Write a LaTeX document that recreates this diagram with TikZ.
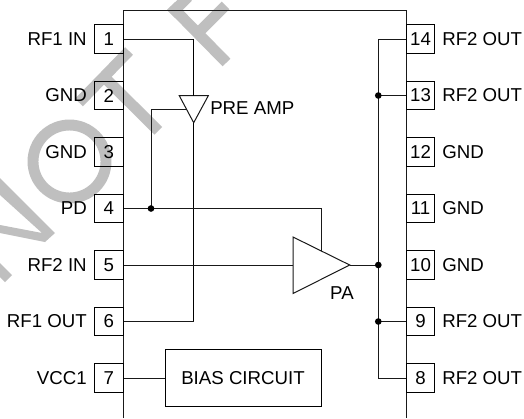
\documentclass[tikz,border=0pt]{standalone}
\usepackage{fontspec}
\setmainfont{Liberation Sans}
\begin{document}
\begin{tikzpicture}[x=0.75pt,y=-0.75pt,
  wm/.style={line width=8.2pt,draw=wmgray,line cap=butt},
  wmf/.style={fill=wmgray,draw=none},
  pin/.style={draw=black,line width=0.75pt,minimum width=21.4pt,minimum height=21.2pt,inner sep=0pt,font=\fontsize{14pt}{16pt}\selectfont},
  lab/.style={inner sep=0pt,font=\fontsize{14pt}{16pt}\selectfont},
  wire/.style={draw=black!90,line width=0.75pt},
  thick wire/.style={draw=black,line width=1.15pt},
  dotn/.style={circle,fill=black,inner sep=0pt,minimum size=5pt}]
\definecolor{wmgray}{gray}{0.75}
\useasboundingbox (0,0) rectangle (524,418);
\fill[white] (0,0) rectangle (524,418);
% watermark
\fill[wmf] (0,178) -- (55,233) -- (45,242) -- (0,233) -- (0,225) -- (42,233) -- (0,195) -- cycle;
\fill[wmf] (0,263) -- (12,275) -- (5,282) -- (0,277) -- cycle;
\draw[wm] (69.5,161.5) circle[radius=36.5];
\draw[wm] (129,51) -- (79,102.5);
\draw[wm] (104,77) -- (158.3,130.8);
\draw[wm] (171,6) -- (226.5,62.5);
\draw[wm] (198,33) -- (225.5,5.5);
\draw[wm] (171,14) -- (188,-3);
% chip
\coordinate (tl) at (123,10.7);\coordinate (tr) at (406.3,10.7);
\coordinate (bl) at (123,418);\coordinate (br) at (406.3,418);
\draw[wire] (bl)--(tl)--(tr)--(br);
% pins
\foreach \n/\y/\t in {1/39/RF1 IN,2/95.5/GND,3/152/GND,4/208.5/PD,5/265/RF2 IN,6/321.5/RF1 OUT,7/378/VCC1}{
  \node[pin] (p\n) at (108.75,\y) {\n};
  \node[lab,anchor=east] (l\n) at (87,\y) {\t};
}
\foreach \n/\y/\t in {14/39/RF2 OUT,13/95.5/RF2 OUT,12/152/GND,11/208.5/GND,10/265/GND,9/321.5/RF2 OUT,8/378/RF2 OUT}{
  \node[pin] (p\n) at (420.6,\y) {\n};
  \node[lab,anchor=west] (l\n) at (442,\y) {\t};
}
% amps
\coordinate (pt1) at (179.3,95.7);\coordinate (pt2) at (208.3,95.7);\coordinate (pt3) at (193.7,122.7);
\draw[wire] (pt1)--(pt2)--(pt3)--cycle;
\node[lab,anchor=west] (pre) at (210,108) {PRE AMP};
\coordinate (a1) at (293,237);\coordinate (a2) at (293,293.5);\coordinate (a3) at (349.7,265);
\draw[wire] (a1)--(a3)--(a2)--cycle;
\node[lab] (pa) at (342,293) {PA};
\node[draw=black,line width=0.75pt,minimum width=117pt,minimum height=42.4pt,inner sep=0pt,font=\fontsize{14pt}{16pt}\selectfont] (bias) at (243,378) {BIAS CIRCUIT};
% wires
\coordinate (j4) at (151,208.5);
\coordinate (j5) at (378.3,265);
\coordinate (j13) at (378.3,95.5);
\coordinate (j9) at (378.3,321.5);
\draw[wire] (p1.east) -- (193.7,39);
\draw[thick wire] (193.7,39) -- (pt1 -| pt3);
\draw[thick wire] (pt3) -- (193.7,321.5);
\draw[wire] (p6.east) -- (194.2,321.5);
\draw[wire] (p4.east) -- (321.3,208.5) -- (321.3,251);
\draw[wire] (j4) -- (151,109) -- (186.5,109);
\draw[wire] (p5.east) -- (a1 |- p5);
\draw[wire] (a3) -- (j5);
\draw[wire] (p14.west) -- (378.3,39) -- (378.3,378) -- (p8.west);
\draw[wire] (j13) -- (p13.west);
\draw[wire] (j9) -- (p9.west);
\draw[wire] (p7.east) -- (bias.west);
\node[dotn] (d1) at (j4) {};
\node[dotn] (d2) at (j5) {};
\node[dotn] (d3) at (j13) {};
\node[dotn] (d4) at (j9) {};
\end{tikzpicture}
\end{document}
